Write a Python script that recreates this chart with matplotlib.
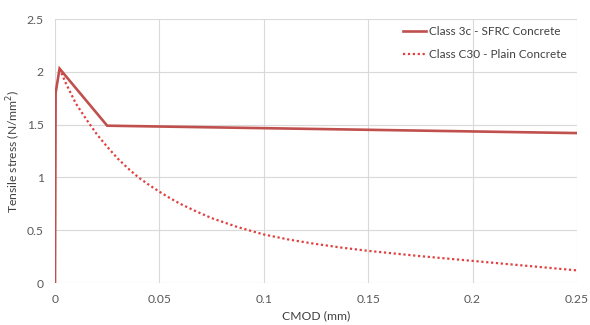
import matplotlib.pyplot as plt

# Class 3c SFRC concrete (solid)
sfrc_x = [0.0, 0.0003, 0.0022, 0.025, 0.25]
sfrc_y = [0.0, 1.80, 2.03, 1.49, 1.42]

# Class C30 plain concrete (dotted)
plain_x = [0.0022, 0.005, 0.01, 0.015, 0.02, 0.025, 0.03, 0.035, 0.04, 0.045, 0.05,
           0.055, 0.06, 0.0675, 0.075, 0.0875, 0.1, 0.1125, 0.125, 0.1375, 0.15,
           0.175, 0.2, 0.225, 0.25]
plain_y = [2.03, 1.90, 1.70, 1.55, 1.41, 1.29, 1.18, 1.085, 1.00, 0.93, 0.865,
           0.805, 0.75, 0.68, 0.615, 0.53, 0.46, 0.41, 0.37, 0.335, 0.305,
           0.255, 0.21, 0.165, 0.12]

x_ticks = [0, 0.05, 0.1, 0.15, 0.2, 0.25]
x_tick_labels = ['0', '0.05', '0.1', '0.15', '0.2', '0.25']
y_ticks = [0, 0.5, 1, 1.5, 2, 2.5]
y_tick_labels = ['0', '0.5', '1', '1.5', '2', '2.5']

plt.rcParams['font.family'] = ['Lato', 'DejaVu Sans']

fig = plt.figure(figsize=(5.9, 3.25), dpi=100)
ax = fig.add_axes([0.0932, 0.129, 0.8848, 0.8125])

ax.plot(sfrc_x, sfrc_y, color='#C0504D', lw=1.9, label='Class 3c - SFRC Concrete',
        solid_joinstyle='miter', zorder=3)
ax.plot(plain_x, plain_y, color='#E0403F', lw=1.6, linestyle=(0, (1, 1.2)),
        label='Class C30 - Plain Concrete', zorder=3)

ax.set_xlim(0, 0.25)
ax.set_ylim(0, 2.5)
ax.set_xticks(x_ticks)
ax.set_xticklabels(x_tick_labels)
ax.set_yticks(y_ticks)
ax.set_yticklabels(y_tick_labels)
ax.tick_params(length=0, labelsize=8.7, colors='#595959', pad=8)
ax.grid(True, color='#D9D9D9', lw=0.8)
for s in ax.spines.values():
    s.set_visible(False)

ax.set_xlabel('CMOD (mm)', fontsize=8.7, color='#404040', labelpad=4)
ax.set_ylabel('Tensile stress (N/mm$^2$)', fontsize=8.7, color='#404040')
ax.yaxis.set_label_coords(-0.061, 0.5)

ax.legend(loc='upper right', bbox_to_anchor=(1.0, 1.015), frameon=False, fontsize=8.5,
          handlelength=2.0, handletextpad=0.2, labelspacing=1.05, labelcolor='#404040')

fig.savefig('out.png', dpi=100)
